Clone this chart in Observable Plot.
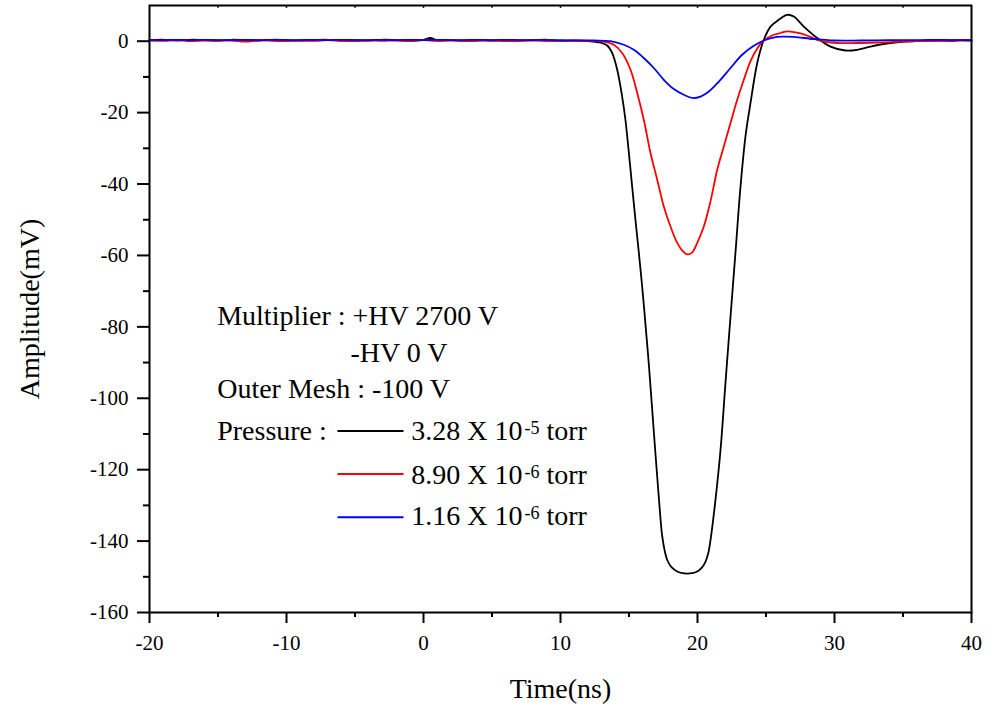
<!DOCTYPE html>
<html>
<head>
<meta charset="utf-8">
<script src="https://cdn.jsdelivr.net/npm/d3@7"></script>
<script src="https://cdn.jsdelivr.net/npm/@observablehq/plot@0.6"></script>
<style>
  html, body { margin: 0; padding: 0; background: #fff; }
  #chart { width: 994px; height: 708px; }
  #chart svg text { font-family: 'Liberation Serif', 'Times New Roman', Times, serif; }
</style>
</head>
<body>
<div id="chart"></div>
<script>
// ---- Data (time in ns, amplitude in mV) ----
const blackT = [-20,-19,-18,-17,-16,-15,-14,-13,-12,-11,-10,-9,-8,-7,-6,-5,-4,-3,-2,-1,0,0.5,1,2,3,4,5,6,7,8,9,10,11,12,12.5,12.92,13.41,13.77,14.14,14.5,14.74,14.99,15.23,15.47,15.72,15.96,16.13,16.46,16.82,17.19,17.42,17.6,17.79,18.1,18.52,18.9,19.25,19.6,19.98,20.3,20.58,20.78,20.95,21.31,21.68,22.04,22.41,22.77,23.14,23.5,23.87,24.36,24.84,25.33,25.93,26.55,27.03,27.76,28.74,29.71,30.8,31.66,32.63,34.09,36.04,37.5,38.5,39.2,40];
const blackV = [0.3,0.4,0.2,0.4,0.3,0.2,0.4,0.3,0.2,0.4,0.3,0.2,0.3,0.4,0.2,0.3,0.2,0.4,0.3,0.2,0.4,0.9,0.2,0.3,0.2,0.3,0.2,0.3,0.2,0.3,0.2,0.2,0.1,0.0,-0.2,-0.4,-1.2,-3.3,-8.0,-15.5,-22.0,-31.3,-40.7,-50.0,-59.3,-68.7,-76.0,-91.1,-109.8,-128.5,-138.5,-142.6,-145.3,-147.3,-148.5,-149.0,-149.1,-149.0,-148.5,-147.5,-145.8,-143.5,-139.7,-128.5,-114.5,-95.8,-77.1,-59.3,-40.7,-26.7,-17.3,-6.1,0.4,4.1,6.0,7.4,6.9,4.1,0.9,-1.5,-2.6,-2.4,-1.5,-0.5,0.0,0.2,0.1,0.3,0.2];

const redT = [-20,-19,-18,-17,-16,-15,-14,-13,-12,-11,-10,-9,-8,-7,-6,-5,-4,-3,-2,-1,0,1,2,3,4,5,6,7,8,9,10,11,12,12.6,13.16,13.89,14.5,15.11,15.6,16.08,16.57,17.06,17.54,18.03,18.52,18.9,19.25,19.6,19.98,20.46,20.95,21.44,21.92,22.41,22.9,23.38,23.87,24.35,24.84,25.57,26.06,26.42,26.79,27.52,28.25,28.73,30.19,31.65,33.6,36.04,38,40];
const redV = [0.2,0.1,0.3,0.0,0.2,0.1,0.2,-0.1,0.2,0.1,0.0,0.2,0.1,0.3,0.1,0.0,0.2,0.1,0.2,0.0,0.3,0.1,0.2,0.0,0.1,0.2,0.0,0.1,0.2,0.1,0.1,0.1,0.1,0.0,-0.1,-1.0,-3.3,-8.0,-14.5,-22.0,-31.3,-38.8,-46.3,-51.9,-56.5,-58.7,-59.7,-59.2,-56.5,-51.9,-44.8,-36.0,-29.5,-22.9,-16.4,-10.8,-5.6,-2.1,0.2,1.8,2.3,2.7,2.7,2.2,1.2,0.4,-0.5,-0.5,-0.3,0.0,0.1,0.2];

const blueT = [-20,-19,-18,-17,-16,-15,-14,-13,-12,-11,-10,-9,-8,-7,-6,-5,-4,-3,-2,-1,0,1,2,3,4,5,6,7,8,9,10,11,12.43,13.65,14.62,15.35,16.08,16.81,17.54,18.27,19,19.61,20.22,20.83,21.56,22.41,23.26,24.11,24.84,25.8,26.3,27.03,28.5,29.96,31.9,34,36,38,40];
const blueV = [0.4,0.3,0.4,0.3,0.4,0.3,0.3,0.4,0.3,0.4,0.3,0.3,0.4,0.3,0.4,0.3,0.3,0.4,0.3,0.4,0.3,0.4,0.3,0.3,0.4,0.3,0.4,0.3,0.3,0.4,0.2,0.3,0.2,0.0,-1.0,-2.4,-4.7,-7.5,-10.8,-13.4,-15.0,-15.9,-15.5,-14.1,-11.3,-7.5,-3.8,-1.3,0.2,1.2,1.3,1.2,0.6,0.2,0.2,0.3,0.3,0.4,0.3];

const seriesNames = ["3.28 X 10^-5 torr", "8.90 X 10^-6 torr", "1.16 X 10^-6 torr"];
const seriesColors = ["#000000", "#ff0000", "#0000ff"];
const annotationLines = ["Multiplier : +HV 2700 V", "-HV 0 V", "Outer Mesh : -100 V", "Pressure :"];

const xMajorTicks = [-20, -10, 0, 10, 20, 30, 40];
const xMinorTicks = [-15, -5, 5, 15, 25, 35];
const xTopTicks = [-15, -10, -5, 0, 5, 10, 15, 20, 25, 30, 35];
const yMajorTicks = [-160, -140, -120, -100, -80, -60, -40, -20, 0];
const yMinorTicks = [-150, -130, -110, -90, -70, -50, -30, -10];

// ---- Build table ----
const rows = [];
[[blackT, blackV], [redT, redV], [blueT, blueV]].forEach(([T, V], i) => {
  T.forEach((t, j) => rows.push({t, v: V[j], s: seriesNames[i]}));
});

// annotation placement (data coordinates)
const annot = [
  {t: -15.06, v: -79.6, text: annotationLines[0]},
  {t: -5.33, v: -89.9, text: annotationLines[1]},
  {t: -15.06, v: -99.8, text: annotationLines[2]},
  {t: -15.06, v: -111.8, text: annotationLines[3]}
];
const legendY = [-109.2, -121.2, -133.3];
const legendTextY = [-111.8, -123.9, -135.6];
const legend = seriesNames.map((name, i) => ({
  name, color: seriesColors[i], x1: -6.28, x2: -1.46, tx: -0.9, y: legendY[i], ty: legendTextY[i]
}));

const font = "'Liberation Serif', 'Times New Roman', Times, serif";

const plot = Plot.plot({
  width: 994,
  height: 708,
  marginLeft: 149,
  marginRight: 23,
  marginTop: 5,
  marginBottom: 96,
  style: {fontFamily: font, background: "#fff", color: "#000", overflow: "visible"},
  x: {domain: [-20, 40]},
  y: {domain: [-160, 10]},
  color: {domain: seriesNames, range: seriesColors},
  marks: [
    Plot.line(rows, {x: "t", y: "v", z: "s", stroke: "s", strokeWidth: 1.8, curve: "catmull-rom"}),
    Plot.frame({stroke: "#000", strokeWidth: 2}),
    Plot.axisY({ticks: yMajorTicks, tickSize: 12, tickPadding: 9, fontSize: 21, fontFamily: font, label: null, strokeWidth: 2, tickFormat: d => d}),
    Plot.axisY({ticks: yMinorTicks, tickSize: 6, text: null, label: null, strokeWidth: 2}),
    Plot.axisX({ticks: xMajorTicks, tickSize: 11, tickPadding: 12, fontSize: 21, fontFamily: font, label: null, strokeWidth: 2, tickFormat: d => d}),
    Plot.axisX({ticks: xMinorTicks, tickSize: 5, text: null, label: null, strokeWidth: 2}),
    Plot.ruleX(xTopTicks, {x: d => d, y1: 10, y2: 9.2, stroke: "#000", strokeWidth: 1.5}),
    Plot.text(["Time(ns)"], {frameAnchor: "bottom", dy: 85, textAnchor: "middle", lineAnchor: "bottom", fontSize: 28, fill: "#000"}),
    Plot.text(["Amplitude(mV)"], {frameAnchor: "left", dx: -111, rotate: -90, textAnchor: "middle", lineAnchor: "bottom", fontSize: 28, fill: "#000"}),
    Plot.text(annot, {x: "t", y: "v", text: "text", textAnchor: "start", lineAnchor: "bottom", fontSize: 28, fill: "#000"}),
    Plot.link(legend, {x1: "x1", x2: "x2", y1: "y", y2: "y", stroke: "color", strokeWidth: 2}),
    Plot.text(legend, {x: "tx", y: "ty", text: "name", textAnchor: "start", lineAnchor: "bottom", fontSize: 28, fill: "#000"})
  ]
});

// superscripts: "10^-5" -> 10 with raised small "-5"
d3.select(plot).selectAll("text").each(function() {
  const s = this.textContent;
  if (!s.includes("^") || this.childElementCount > 0) return;
  const m = s.match(/^(.*?)\^(\S+)(.*)$/);
  if (!m) return;
  const el = d3.select(this);
  el.text(null);
  el.append("tspan").text(m[1]);
  el.append("tspan").attr("dx", 2).attr("dy", -6).attr("font-size", 18).text(m[2]);
  el.append("tspan").attr("dy", 6).text(m[3]);
});

document.getElementById("chart").appendChild(plot);
</script>
</body>
</html>
